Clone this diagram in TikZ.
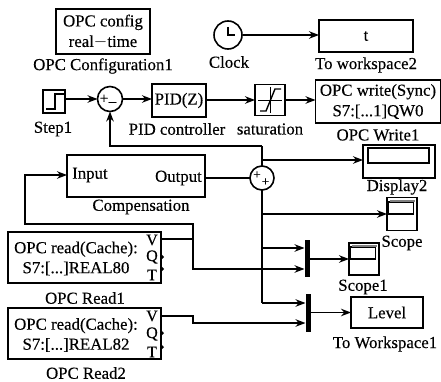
\documentclass[tikz,border=0pt]{standalone}
\usepackage{fontspec}
\setmainfont{Liberation Serif}[FakeBold=0.3]
\usetikzlibrary{arrows.meta,calc}
\tikzset{
  every picture/.style={x=1pt,y=-1pt},
  blk/.style={draw,line width=1.6pt,inner sep=0pt,outer sep=0pt,align=center,font=\fontsize{16.8}{20.5}\selectfont},
  lbl/.style={inner sep=0pt,font=\fontsize{16.8}{20}\selectfont},
  smallsign/.style={inner sep=0pt,font=\fontsize{15}{15}\selectfont},
  tinysign/.style={inner sep=0pt,font=\fontsize{13}{13}\selectfont},
  portlbl/.style={inner sep=0pt,font=\fontsize{16}{16}\selectfont},
  sumblk/.style={draw,circle,line width=1.6pt,inner sep=0pt,outer sep=0pt,minimum size=25pt},
  barblk/.style={fill=black,inner sep=0pt,outer sep=0pt,minimum width=5pt},
  sig/.style={line width=1.5pt,-{Stealth[length=10pt,width=7.5pt]}},
  wire/.style={line width=1.5pt},
  glyph/.style={line width=1.4pt},
}
\begin{document}
\begin{tikzpicture}
\useasboundingbox (0,0) rectangle (441,382);
% blocks
\node[blk,minimum width=94pt,minimum height=45pt] (cfg) at (103,31.5) {OPC config\\real$-$time};
\node[lbl] (cfgl) at (103,66) {OPC Configuration1};
\node[draw,circle,line width=1.6pt,inner sep=0pt,minimum size=28pt] (clock) at (228,35) {};
\draw[glyph] (clock.center)++(0,-8) |- ++(7,8);
\node[lbl] (clockl) at (229,62) {Clock};
\node[blk,minimum width=94pt,minimum height=32pt] (tow2) at (366,36) {t};
\node[lbl] (tow2l) at (366,65) {To workspace2};
\node[blk,minimum width=22pt,minimum height=23pt] (step) at (54,101.5) {};
\draw[glyph] (46,109) -- (55,109) -- (55,94) -- (64,94);
\node[lbl] (stepl) at (53,129) {Step1};
\node[sumblk] (s1) at (110,99) {};
\node[smallsign] (s1p) at (104,99) {+};
\node[smallsign] (s1m) at (112.5,102) {\_};
\node[blk,minimum width=54pt,minimum height=33pt] (pid) at (179,100.5) {PID(Z)};
\node[lbl] (pidl) at (177,129) {PID controller};
\node[blk,minimum width=30pt,minimum height=31pt] (sat) at (270,100) {};
\draw[glyph] (260,111) -- (266,111) -- (275,89) -- (281,89);
\draw[line width=.9pt] (258,100) -- (282,100) (270,87) -- (270,113);
\node[lbl] (satl) at (270,129) {saturation};
\node[blk,minimum width=125pt,minimum height=43pt] (wr) at (378,101.5) {OPC write(Sync)\\S7:[...1]QW0};
\node[lbl] (wrl) at (378,135) {OPC Write1};
\node[blk,minimum width=72pt,minimum height=33pt] (disp) at (399,161.5) {};
\node[draw,line width=1.6pt,inner sep=0pt,minimum width=61pt,minimum height=15pt] (dispi) at (398.5,155.5) {};
\node[lbl] (displ) at (397,187) {Display2};
\node[blk,minimum width=138pt,minimum height=42pt] (comp) at (136,176) {};
\node[lbl,anchor=west] (compi) at (72,175) {Input};
\node[lbl,anchor=east] (compo) at (202,178) {Output};
\node[lbl] (compl) at (141,207) {Compensation};
\node[sumblk,minimum size=24pt] (s2) at (262,178) {};
\node[tinysign] (s2a) at (257,175) {+};
\node[tinysign] (s2b) at (265.5,182) {+};
% scope
\node[blk,minimum width=30pt,minimum height=33pt] (sc) at (402,214) {};
\node[draw,line width=1.5pt,fill=white,inner sep=0pt,minimum width=25pt,minimum height=12pt] (sci) at (401,208) {};
\draw[line width=2pt,gray] (390,200.5) -- (415,200.5);
\node[lbl] (scl) at (402,243) {Scope};
\node[blk,minimum width=30pt,minimum height=32pt] (sc1) at (364,259) {};
\node[draw,line width=1.5pt,fill=white,inner sep=0pt,minimum width=25pt,minimum height=12pt] (sc1i) at (363,253) {};
\draw[line width=2pt,gray] (352,245.5) -- (377,245.5);
\node[lbl] (sc1l) at (363,287) {Scope1};
\node[barblk,minimum height=37pt] (m1) at (307,258.5) {};
\node[barblk,minimum height=38pt] (m2) at (308,313) {};
\node[blk,minimum width=72pt,minimum height=31pt] (lev) at (387,312.5) {Level};
\node[lbl] (levl) at (385,344) {To Workspace1};
% reads
\node[blk,minimum width=153pt,minimum height=51pt] (r1) at (84.5,257.5) {};
\node[lbl,align=center] (r1t) at (76,258.5) {OPC read(Cache):\\S7:[...]REAL80};
\node[portlbl] (r1v) at (152,240) {V};
\node[portlbl] (r1q) at (152,257) {Q};
\node[portlbl] (r1t2) at (152,275) {T};
\node[lbl] (r1l) at (85,298) {OPC Read1};
\node[blk,minimum width=153pt,minimum height=51pt] (r2) at (84.5,333.5) {};
\node[lbl,align=center] (r2t) at (76,335) {OPC read(Cache):\\S7:[...]REAL82};
\node[portlbl] (r2v) at (152,316) {V};
\node[portlbl] (r2q) at (152,334) {Q};
\node[portlbl] (r2t2) at (152,352) {T};
\node[lbl] (r2l) at (86,373) {OPC Read2};
% small port tips
\foreach \y in {257,269,333,347} \fill (161,\y-3) -- (164,\y) -- (161,\y+3) -- cycle;
% routing points
\coordinate (fb) at (262,146);
\coordinate (fbl) at (110,146);
\coordinate (dj) at (262,160);
\coordinate (scj) at (262,214);
\coordinate (m1j) at (262,248);
\coordinate (m2j) at (262,303);
\coordinate (r1a) at (161,239);
\coordinate (r1b) at (193,239);
\coordinate (r1c) at (193,224);
\coordinate (r1d) at (25,224);
\coordinate (r1e) at (25,175);
\coordinate (r2a) at (161,316);
\coordinate (r2b) at (193,316);
% connectors
\draw[sig] (clock.east) -- (clock.east -| tow2.west);
\draw[sig] (step.east |- s1.west) -- (s1.west);
\draw[sig] (s1.east) -- (s1.east -| pid.west);
\draw[sig] (pid.east |- sat.west) -- (sat.west);
\draw[sig] (sat.east) -- (sat.east -| wr.west);
\draw[wire] (comp.east |- s2.west) -- (s2.west);
\draw[wire] (s2.north) -- (fb);
\draw[sig] (fb) -- (fbl) -- (s1.south);
\draw[sig] (dj) -- (dj -| disp.west);
\draw[wire] (s2.south) -- (m2j);
\draw[sig] (scj) -- (scj -| sc.west);
\draw[sig] (m1j) -- (m1j -| m1.west);
\draw[sig] (m2j) -- (m2j -| m2.west);
\draw[sig] (m1.east |- sc1.west) -- (sc1.west);
\draw[sig] (m2.east |- lev.west) -- (lev.west);
\draw[sig] (r1a) -- (r1b) -- (r1c) -- (r1d) -- (r1e) -- (r1e -| comp.west);
\draw[sig] (r1b) |- (304.5,269);
\draw[sig] (r2a) -- (r2b) |- (305.5,323);
\end{tikzpicture}
\end{document}
